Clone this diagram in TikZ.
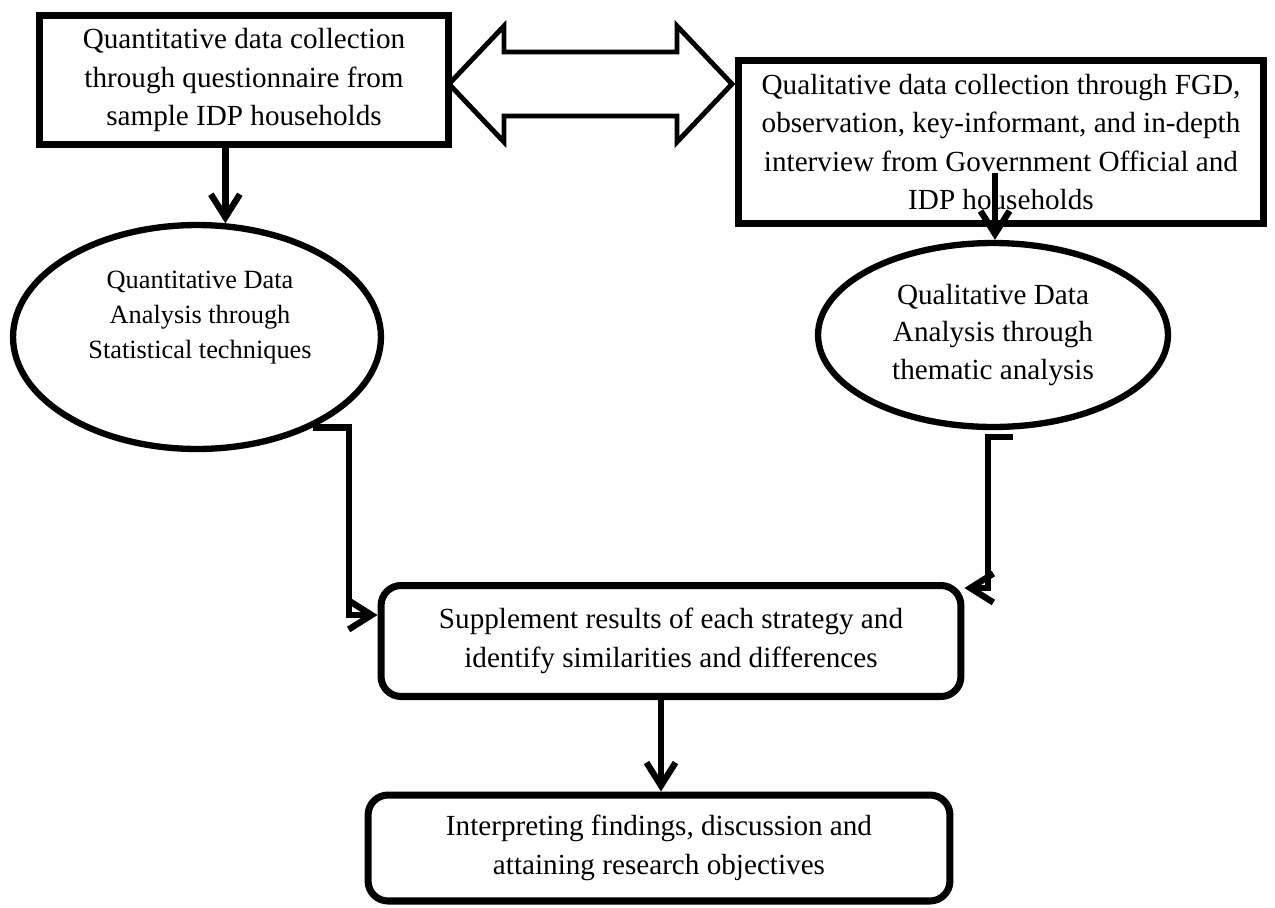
\documentclass[tikz,border=0pt]{standalone}
\usepackage{fontspec}
\setmainfont{Liberation Serif}
\usepackage{tikz}
\usetikzlibrary{arrows.meta,shapes.geometric}

\begin{document}
\begin{tikzpicture}[x=0.02cm,y=-0.02cm,
        font=\fontsize{16.6}{22}\selectfont,
        box/.style={draw,line width=4pt,align=center,inner sep=0pt},
        rbox/.style={box,rounded corners=0.4cm},
        oval/.style={draw,ellipse,line width=3.6pt,align=center,inner sep=0pt},
        flow/.style={line width=3.6pt,-{Straight Barb[length=0.46cm,width=0.58cm]}}]
        \useasboundingbox (0,0) rectangle (1275,907);
        \node[box,minimum width=8.2cm,minimum height=2.58cm] (qncol) at (244,80) {Quantitative data collection\\through questionnaire from\\sample IDP households};
        \node[box,minimum width=10.52cm,minimum height=3.26cm] (qlcol) at (1001,142) {Qualitative data collection through FGD,\\observation, key-informant, and in-depth\\interview from Government Official and\\IDP households};
        \draw[line width=2.8pt] (449,84) -- (504,26) -- (504,52) -- (677,52) -- (677,26) -- (732,84) -- (677,142) -- (677,116) -- (504,116) -- (504,142) -- cycle;
        \node[oval,minimum width=7.36cm,minimum height=4.48cm] (qnana) at (197,337) {};
        \node[align=center,font=\fontsize{15}{19.9}\selectfont] (qnanatxt) at (200,318) {Quantitative Data\\Analysis through\\Statistical techniques};
        \node[oval,minimum width=7.0cm,minimum height=3.68cm,font=\fontsize{16.6}{21.3}\selectfont] (qlana) at (993,335) {Qualitative Data\\Analysis through\\thematic analysis};
        \node[rbox,minimum width=11.6cm,minimum height=2.22cm] (merge) at (671,641) {Supplement results of each strategy and\\identify similarities and differences};
        \node[rbox,minimum width=11.64cm,minimum height=2.12cm] (final) at (659,848) {Interpreting findings, discussion and\\attaining research objectives};
        \coordinate (qlstart) at (995,173);
        \coordinate (rstart) at (1013,437);
        \draw[flow] (qnana.76 |- qncol.south) -- (qnana.76);
        \draw[flow] (qlstart) -- (qlstart |- qlana.north);
        \draw[flow] (qnana.-38) -- ++(36,0) |- ([yshift=0.52cm]merge.west);
        \draw[flow] (rstart) -- ++(-25,0) |- ([yshift=-0.12cm]merge.north east);
        \draw[flow] (661,0 |- merge.south) -- (661,0 |- final.north);
    \end{tikzpicture}
\end{document}
